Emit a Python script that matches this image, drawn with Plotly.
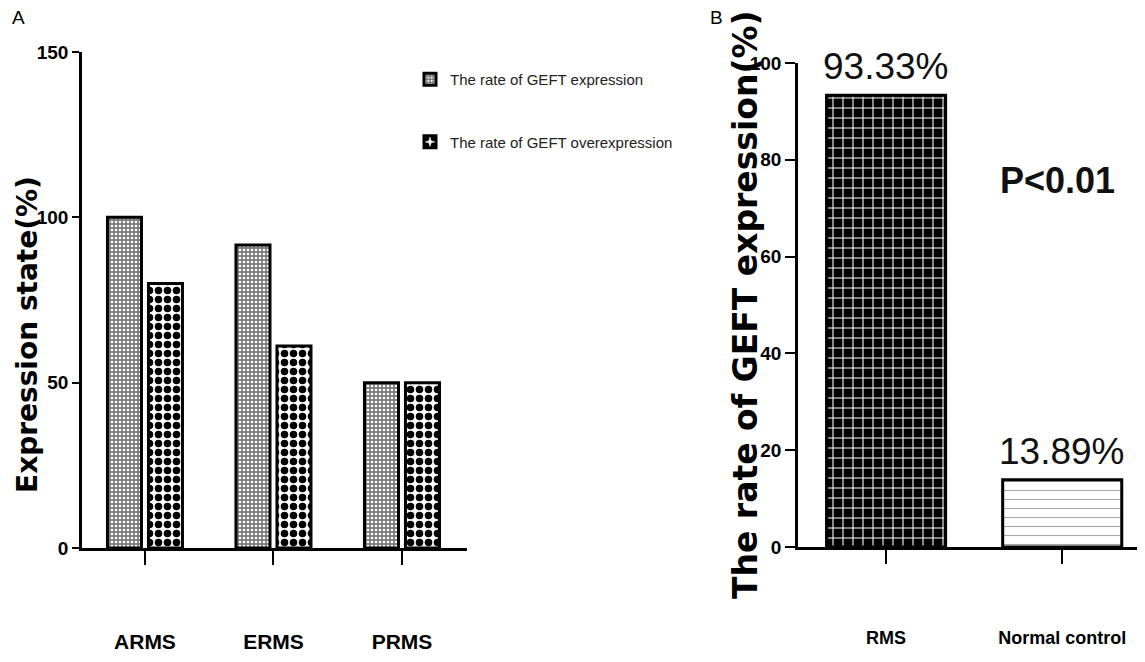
import plotly.graph_objects as go

# ---------------- data ----------------
subtypes = ["ARMS", "ERMS", "PRMS"]
rate_expression = [100, 91.67, 50]
rate_overexpression = [80, 61.1, 50]
series_names = ["The rate of GEFT expression", "The rate of GEFT overexpression"]

groups_b = ["RMS", "Normal control"]
rate_b = [93.33, 13.89]
rate_b_labels = ["93.33%", "13.89%"]
p_text = "P<0.01"

ticks_a = [0, 50, 100, 150]
ticks_b = [0, 20, 40, 60, 80, 100]

# the page body has an 8px margin, so the figure starts at (8, 8)
OFF = 8
W, H = 1145 - OFF, 662 - OFF
SANS = "Liberation Sans, Arial, sans-serif"
WIDE = "DejaVu Sans, Verdana, sans-serif"


def px(X):
    return (X - OFF) / W


def py(Y):
    return 1 - (Y - OFF) / H


fig = go.Figure()

fig.add_trace(go.Bar(
    x=subtypes, y=rate_expression, name=series_names[0],
    xaxis="x", yaxis="y", legendgroup="g1",
    marker=dict(color="#8c8c8c", line=dict(color="black", width=3),
                pattern=dict(shape=".", fgcolor="white", bgcolor="#7a7a7a",
                             size=4, solidity=0.35, fillmode="replace")),
))
fig.add_trace(go.Bar(
    x=subtypes, y=rate_overexpression, name=series_names[1],
    xaxis="x", yaxis="y", legendgroup="g2",
    marker=dict(color="white", line=dict(color="black", width=3),
                pattern=dict(shape=".", fgcolor="black", bgcolor="white",
                             size=9, solidity=0.55, fillmode="replace")),
))

# panel B: one trace per bar so each gets its own fill pattern
b_styles = [
    dict(shape="+", fgcolor="white", bgcolor="black", size=10, solidity=0.2),
    dict(shape="-", fgcolor="#a8a8a8", bgcolor="white", size=9, solidity=0.12),
]
for g, v, st in zip(groups_b, rate_b, b_styles):
    fig.add_trace(go.Bar(
        x=[g], y=[v], showlegend=False, xaxis="x2", yaxis="y2",
        width=0.676, offset=-0.338,
        marker=dict(color=st["bgcolor"], line=dict(color="black", width=3),
                    pattern=dict(fillmode="replace", **st)),
    ))

axis_common = dict(showline=True, linecolor="black", linewidth=2.5,
                   showgrid=False, zeroline=False, ticks="outside",
                   tickcolor="black", tickwidth=2, automargin=False)

fig.update_layout(
    template="none",
    width=W, height=H, margin=dict(l=0, r=0, t=0, b=0, autoexpand=False),
    paper_bgcolor="white", plot_bgcolor="white",
    barmode="group", bargap=0.362, bargroupgap=0.17,
    xaxis=dict(domain=[px(82), px(467)], range=[-0.49, 2.506], anchor="y",
               ticklen=14, ticklabelstandoff=59,
               tickfont=dict(family=SANS, size=21, color="black", weight="bold"),
               **axis_common),
    yaxis=dict(domain=[py(548), py(52)], range=[0, 150], anchor="x",
               tickvals=ticks_a, ticklen=7,
               tickfont=dict(family=SANS, size=19, color="black", weight="bold"),
               **axis_common),
    xaxis2=dict(domain=[px(798), 1.0], range=[-0.5, 1.47], anchor="y2",
                ticklen=14, ticklabelstandoff=59,
                tickfont=dict(family=SANS, size=18, color="black", weight="bold"),
                **axis_common),
    yaxis2=dict(domain=[py(547), py(63)], range=[0, 100], anchor="x2",
                tickvals=ticks_b, ticklen=10,
                tickfont=dict(family=SANS, size=19, color="black", weight="bold"),
                **axis_common),
    legend=dict(x=px(410), y=py(63), xanchor="left", yanchor="top",
                font=dict(family=SANS, size=15, color="#222"),
                tracegroupgap=40, bgcolor="rgba(0,0,0,0)", itemwidth=30),
    showlegend=True,
)

annotations = [
    dict(text="A", x=px(10), y=py(18), xref="paper", yref="paper",
         xanchor="left", yanchor="middle", showarrow=False,
         font=dict(family=SANS, size=19, color="black")),
    dict(text="B", x=px(708), y=py(18), xref="paper", yref="paper",
         xanchor="left", yanchor="middle", showarrow=False,
         font=dict(family=SANS, size=19, color="black")),
    dict(text="Expression state(%)", x=px(27), y=py(335), xref="paper", yref="paper",
         textangle=-90, showarrow=False, xanchor="center", yanchor="middle",
         font=dict(family=WIDE, size=28, color="black", weight="bold")),
    dict(text="The rate of GEFT expression(%)", x=px(745), y=py(305),
         xref="paper", yref="paper", textangle=-90, showarrow=False,
         xanchor="center", yanchor="middle",
         font=dict(family=WIDE, size=33, color="black", weight="bold")),
    dict(text=p_text, x=px(1057), y=py(180), xref="paper", yref="paper",
         showarrow=False, xanchor="center", yanchor="middle",
         font=dict(family=SANS, size=36, color="#111", weight="bold")),
]
for g, v, lab in zip(groups_b, rate_b, rate_b_labels):
    annotations.append(dict(text=lab, x=g, y=v, xref="x2", yref="y2",
                            showarrow=False, xanchor="center", yanchor="bottom",
                            yshift=6,
                            font=dict(family=SANS, size=37, color="#111")))
fig.update_layout(annotations=annotations)

fig.write_html("out.html")
